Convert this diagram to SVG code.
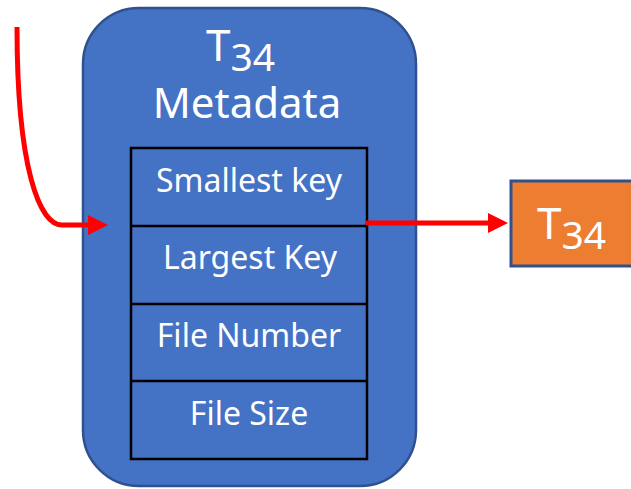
<svg xmlns="http://www.w3.org/2000/svg" width="631" height="489" viewBox="0 0 631 489">
  <style>
    .lbl { font-family: "Noto Sans", "Open Sans", "Liberation Sans", sans-serif; fill: #ffffff; text-anchor: middle; }
    .name { font-family: "Noto Sans", "Open Sans", "Liberation Sans", sans-serif; fill: #ffffff; }
    .cell { fill: none; stroke: #000000; stroke-width: 2.5; }
    .wire { fill: none; stroke: #ff0000; stroke-width: 5; }
  </style>
  <defs>
    <marker id="head" viewBox="0 0 20 20" refX="2" refY="10" markerWidth="20" markerHeight="20" markerUnits="userSpaceOnUse" orient="auto">
      <path d="M0,0 L20,10 L0,20 z" fill="#ff0000"/>
    </marker>
  </defs>

  <!-- metadata record for table file 34 -->
  <g id="meta">
    <rect x="83" y="8" width="333" height="478" rx="56" ry="56" fill="#4472C4" stroke="#2F528F" stroke-width="2.5"/>
    <text class="name" x="206" y="61"><tspan font-size="44">T</tspan><tspan font-size="39" dy="10">34</tspan></text>
    <text class="lbl" font-size="42" x="247" y="118">Metadata</text>
  </g>

  <g id="fields">
    <rect class="cell" x="131" y="148" width="236" height="311"/>
    <line class="cell" x1="131" y1="226" x2="367" y2="226"/>
    <line class="cell" x1="131" y1="304" x2="367" y2="304"/>
    <line class="cell" x1="131" y1="381" x2="367" y2="381"/>
    <text class="lbl" font-size="32" x="249" y="192">Smallest key</text>
    <text class="lbl" font-size="32" x="250" y="269">Largest Key</text>
    <text class="lbl" font-size="32" x="249" y="347">File Number</text>
    <text class="lbl" font-size="32" x="249" y="425">File Size</text>
  </g>

  <!-- the table file itself -->
  <g id="table">
    <rect x="511" y="181" width="135" height="85" fill="#ED7D31" stroke="#2F528F" stroke-width="3"/>
    <text class="name" x="537" y="239"><tspan font-size="44">T</tspan><tspan font-size="39" dy="10">34</tspan></text>
  </g>

  <g id="connectors">
    <path class="wire" d="M17,27 C17,170 40,225 62,225 L90,225" marker-end="url(#head)"/>
    <path class="wire" d="M366,223 L490,223" marker-end="url(#head)"/>
  </g>
</svg>
